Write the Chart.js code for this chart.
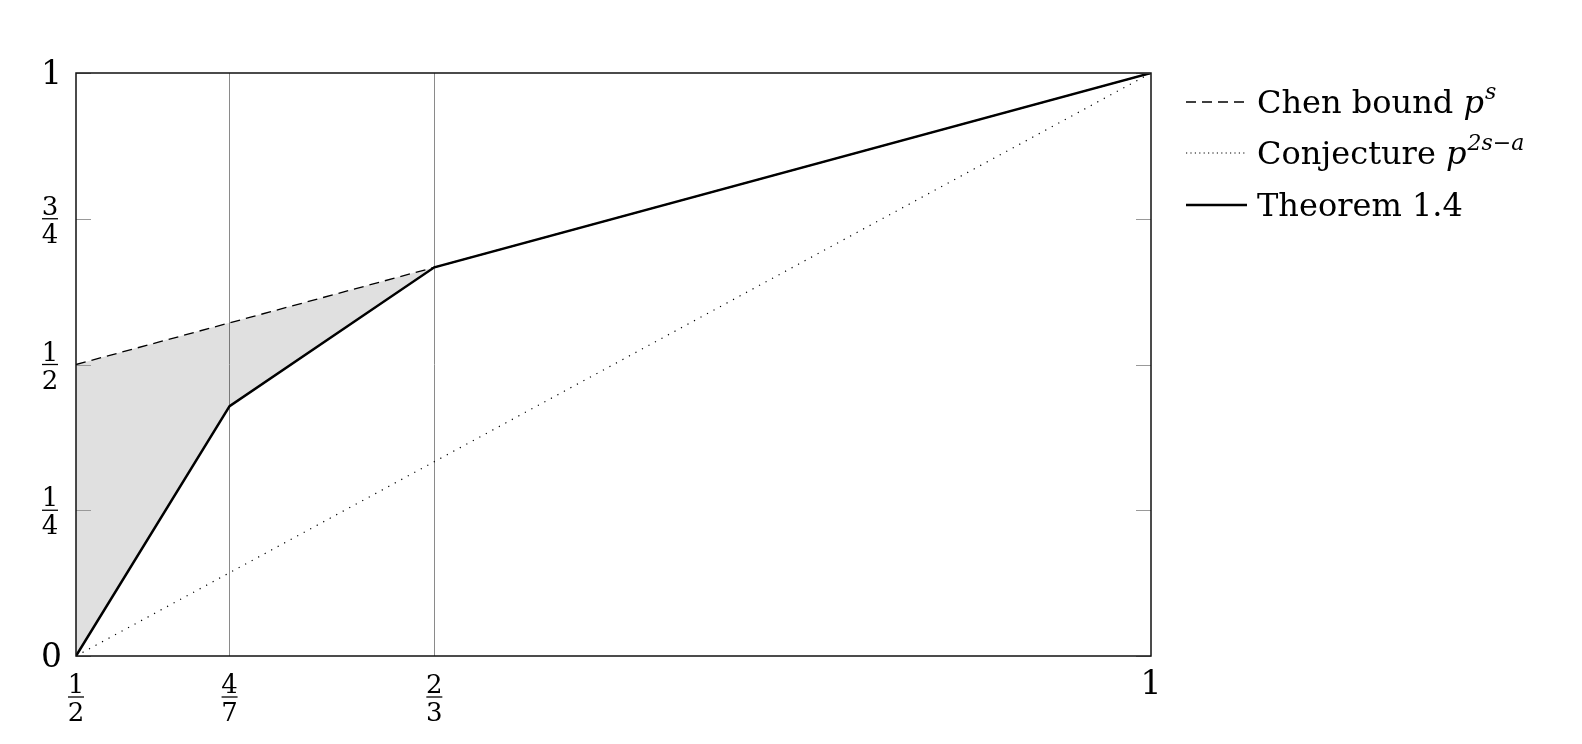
<!DOCTYPE html>
<html>
<head>
<meta charset="utf-8">
<script src="https://cdn.jsdelivr.net/npm/chart.js@4"></script>
<style>
  html, body { margin: 0; padding: 0; background: #fff; }
  canvas { display: block; }
</style>
</head>
<body>
<canvas id="boundChart" width="1582" height="744"></canvas>
<script>
// axis ticks
const xTickVals = [1 / 2, 4 / 7, 2 / 3, 1];
const xTickLabels = ['1/2', '4/7', '2/3', '1'];
const yTickVals = [0, 1 / 4, 1 / 2, 3 / 4, 1];
const yTickLabels = ['0', '1/4', '1/2', '3/4', '1'];
const guideVals = [4 / 7, 2 / 3];

// series
const chenX = [1 / 2, 1];
const chenY = [1 / 2, 1];
const conjX = [1 / 2, 1];
const conjY = [0, 1];
const thmX = [1 / 2, 4 / 7, 2 / 3, 1];
const thmY = [0, 3 / 7, 2 / 3, 1];
// shaded gap between Chen bound and Theorem 1.4
const shadeX = [1 / 2, 4 / 7, 2 / 3];
const shadeTopY = [1 / 2, 4 / 7, 2 / 3];
const shadeBottomY = [0, 3 / 7, 2 / 3];

// legend
const legendNames = ['Chen bound ', 'Conjecture ', 'Theorem 1.4'];
const legendSups = ['s', '2s\u2212a', ''];
const legendDash = [[10, 6], [1.2, 3.2], []];
const legendWidth = [1.3, 1.2, 2.4];

const FONT = '"DejaVu Serif", serif';
const pts = (xs, ys) => xs.map((x, i) => ({ x, y: ys[i] }));
const near = (a, b) => Math.abs(a - b) < 1e-6;

function drawTickLabel(ctx, text, x, y, axis) {
    ctx.save();
    ctx.fillStyle = '#000';
    if (text.includes('/')) {
        const [num, den] = text.split('/');
        ctx.font = '26px ' + FONT;
        ctx.textAlign = 'center';
        ctx.textBaseline = 'alphabetic';
        ctx.fillText(num, x, y - 4);
        ctx.fillText(den, x, y + 24);
        ctx.strokeStyle = '#000';
        ctx.lineWidth = 1.3;
        ctx.beginPath();
        ctx.moveTo(x - 8, y);
        ctx.lineTo(x + 8, y);
        ctx.stroke();
    } else {
        ctx.font = '33px ' + FONT;
        ctx.textBaseline = 'middle';
        ctx.textAlign = axis === 'y' ? 'right' : 'center';
        ctx.fillText(text, x, y);
    }
    ctx.restore();
}

const framePlugin = {
    id: 'frame',
    afterDatasetsDraw(chart) {
        const { ctx, chartArea: a, scales } = chart;
        ctx.save();
        // small inner ticks on y at both sides
        ctx.strokeStyle = '#999';
        ctx.lineWidth = 1;
        yTickVals.forEach(v => {
            const py = Math.round(scales.y.getPixelForValue(v)) + 0.5;
            ctx.beginPath();
            ctx.moveTo(a.left, py); ctx.lineTo(a.left + 15, py);
            ctx.moveTo(a.right - 15, py); ctx.lineTo(a.right, py);
            ctx.stroke();
        });
        // frame
        ctx.strokeStyle = '#111';
        ctx.lineWidth = 1.5;
        ctx.strokeRect(a.left, a.top, a.right - a.left, a.bottom - a.top);
        ctx.restore();

        // tick labels
        yTickVals.forEach((v, i) => {
            const py = scales.y.getPixelForValue(v);
            const lbl = yTickLabels[i];
            drawTickLabel(chart.ctx, lbl, lbl.includes('/') ? 50 : 62, lbl.includes('/') ? py : py + 2, 'y');
        });
        xTickVals.forEach((v, i) => {
            const px = scales.x.getPixelForValue(v);
            const lbl = xTickLabels[i];
            drawTickLabel(chart.ctx, lbl, px, lbl.includes('/') ? a.bottom + 41 : a.bottom + 29, 'x');
        });

        // legend
        const lx0 = 1186, lx1 = 1247, tx = 1257;
        const baselines = [113, 164, 216];
        legendNames.forEach((name, i) => {
            const base = baselines[i];
            ctx.save();
            ctx.strokeStyle = '#000';
            ctx.lineWidth = legendWidth[i];
            ctx.setLineDash(legendDash[i]);
            ctx.beginPath();
            ctx.moveTo(lx0, base - 11);
            ctx.lineTo(lx1, base - 11);
            ctx.stroke();
            ctx.setLineDash([]);
            ctx.fillStyle = '#000';
            ctx.textBaseline = 'alphabetic';
            ctx.textAlign = 'left';
            ctx.font = '32px ' + FONT;
            ctx.fillText(name, tx, base);
            if (legendSups[i]) {
                let x = tx + ctx.measureText(name).width;
                ctx.font = 'italic 32px ' + FONT;
                ctx.fillText('p', x, base);
                x += ctx.measureText('p').width + 1;
                ctx.font = 'italic 22px ' + FONT;
                ctx.fillText(legendSups[i], x, base - 14);
            }
            ctx.restore();
        });
    }
};

const ctx = document.getElementById('boundChart');
new Chart(ctx, {
    type: 'line',
    data: {
        datasets: [
            {
                label: 'shade',
                data: pts(shadeX, shadeTopY),
                borderWidth: 0,
                pointRadius: 0,
                fill: 1,
                backgroundColor: 'rgba(0,0,0,0.12)'
            },
            {
                label: 'shade bottom',
                data: pts(shadeX, shadeBottomY),
                borderWidth: 0,
                pointRadius: 0,
                fill: false
            },
            {
                label: 'Chen bound',
                data: pts(chenX, chenY),
                borderColor: '#000',
                borderWidth: 1.3,
                borderDash: [10, 6],
                pointRadius: 0,
                fill: false
            },
            {
                label: 'Conjecture',
                data: pts(conjX, conjY),
                borderColor: '#000',
                borderWidth: 1.2,
                borderDash: [1.2, 6.2],
                pointRadius: 0,
                fill: false
            },
            {
                label: 'Theorem 1.4',
                data: pts(thmX, thmY),
                borderColor: '#000',
                borderWidth: 2.5,
                pointRadius: 0,
                fill: false
            }
        ]
    },
    options: {
        responsive: false,
        animation: false,
        layout: { padding: { left: 76, top: 73, right: 431, bottom: 88 } },
        plugins: { legend: { display: false }, tooltip: { enabled: false } },
        scales: {
            x: {
                type: 'linear',
                min: 0.5,
                max: 1,
                afterBuildTicks: s => { s.ticks = xTickVals.map(v => ({ value: v })); },
                afterFit: s => { s.height = 0; },
                ticks: { display: false },
                grid: {
                    drawTicks: false,
                    lineWidth: 1,
                    color: c => guideVals.some(g => near(g, c.tick.value)) ? '#8a8a8a' : 'rgba(0,0,0,0)'
                },
                border: { display: false }
            },
            y: {
                type: 'linear',
                min: 0,
                max: 1,
                afterBuildTicks: s => { s.ticks = yTickVals.map(v => ({ value: v })); },
                afterFit: s => { s.width = 0; },
                ticks: { display: false },
                grid: { display: false, drawTicks: false },
                border: { display: false }
            }
        }
    },
    plugins: [framePlugin]
});
</script>
</body>
</html>
